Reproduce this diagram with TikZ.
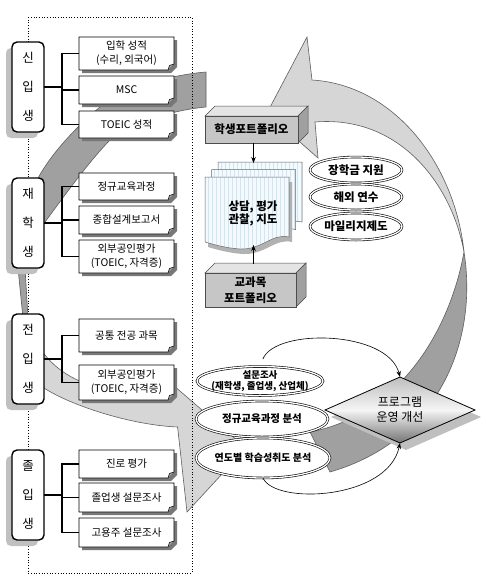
\documentclass[tikz,border=0pt]{standalone}
\usepackage{fontspec}
\setmainfont{Noto Sans CJK KR}
\usetikzlibrary{shapes.geometric,shadows,arrows.meta,calc}
\definecolor{ribL}{RGB}{214,214,214}
\definecolor{ribD}{RGB}{160,160,160}
\definecolor{ribE}{RGB}{95,95,95}
\definecolor{cshadow}{RGB}{192,192,192}
\definecolor{ishadow}{RGB}{120,120,120}
\definecolor{foldc}{RGB}{170,170,170}
\definecolor{paper}{RGB}{243,249,252}
\definecolor{gridc}{RGB}{208,230,240}
\definecolor{cubeF}{RGB}{198,198,198}
\definecolor{cubeT}{RGB}{228,228,228}
\definecolor{cubeR}{RGB}{160,160,160}

\newcommand\itembox[6]{%
  \pgfmathsetmacro\ibw{#4-#2}%
  \pgfmathsetmacro\ibh{#5-#3}%
  \pgfmathsetmacro\ibx{(#2+#4)/2}%
  \pgfmathsetmacro\iby{(#3+#5)/2}%
  \fill[ishadow] (#2+3,#3+3) -- (#4+3,#3+3) -- (#4+3,#5-3) -- (#4-3,#5+3) -- (#2+3,#5+3) -- cycle;
  \draw[line width=0.6, fill=white] (#2,#3) -- (#4,#3) -- (#4,#5-6) -- (#4-6,#5) -- (#2,#5) -- cycle;
  \draw[line width=0.5, fill=foldc] (#4,#5-6) -- (#4-4.5,#5-4.5) -- (#4-6,#5);
  \node[itemtxt, minimum width=\ibw pt, minimum height=\ibh pt] (#1) at (\ibx,\iby) {#6};
}
\newcommand\cuboid[6]{%
  \pgfmathsetmacro\ibw{#4-#2}%
  \pgfmathsetmacro\ibh{#5-#3}%
  \pgfmathsetmacro\ibx{(#2+#4)/2}%
  \pgfmathsetmacro\iby{(#3+#5)/2}%
  \path[fill=cubeT, draw=black!70, line width=0.5] (#2,#3) -- (#2+10,#3-10) -- (#4+10,#3-10) -- (#4,#3) -- cycle;
  \path[fill=cubeR, draw=black!70, line width=0.5] (#4,#3) -- (#4+10,#3-10) -- (#4+10,#5-10) -- (#4,#5) -- cycle;
  \node[cubefront, minimum width=\ibw pt, minimum height=\ibh pt] (#1) at (\ibx,\iby) {#6};
}
\newcommand\docpath[1]{%
  \path[#1] (205,177) -- (289,177) -- (289,237) .. controls (272,233) and (262,250) .. (240,249) .. controls (225,248) and (212,244) .. (205,242) -- cycle;
}

\begin{document}
\begin{tikzpicture}[x=1pt,y=-1pt,
  rib/.style={draw=ribE, line width=0.6},
  catbox/.style={draw=black, line width=1.4, rounded corners=5, fill=white,
    minimum width=32, minimum height=90, inner sep=0, outer sep=0, align=center,
    font=\fontsize{12.5}{29}\selectfont,
    drop shadow={shadow xshift=-6pt, shadow yshift=-6pt, fill=cshadow, opacity=1}},
  itemtxt/.style={inner sep=0, outer sep=0, align=center, font=\fontsize{10.5}{14}\selectfont},
  bracket/.style={line width=1.6, black},
  dell/.style={ellipse, draw=black, line width=0.6, double=white, double distance=1.3,
    fill=white, inner sep=0, outer sep=0},
  etxt/.style={font=\bfseries\fontsize{11.5}{13}\selectfont, align=center},
  cubefront/.style={draw=black!70, line width=0.5, fill=cubeF, inner sep=0, outer sep=0,
    align=center, font=\bfseries\fontsize{11.5}{16}\selectfont},
  arr/.style={-{Stealth[length=6pt,width=4.5pt]}, line width=0.6, black}
]
\useasboundingbox (0,0) rectangle (486,587);
\fill[white] (0,0) rectangle (486,587);

% ---- ribbon arrow 1 (left), back face
\path[fill=ribD, rib] (206,72) .. controls (160,76) and (120,92) .. (100,107)
  .. controls (75,128) and (50,155) .. (37,180) .. controls (28,200) and (19,235) .. (18,268)
  -- (23,318) -- (28,318) -- (25,268) .. controls (30,245) and (38,230) .. (45,222)
  .. controls (65,195) and (90,160) .. (112,138) .. controls (140,120) and (175,110) .. (206,107) -- cycle;
% front face with head
\path[fill=ribL, rib] (28,318) .. controls (40,375) and (95,400) .. (175,392)
  -- (173,385) -- (246,448) -- (187,512) -- (177.6,427)
  .. controls (130,425) and (70,405) .. (44,388) .. controls (32,372) and (25,345) .. (23,318) -- cycle;

% ---- ribbon arrow 2 (right), front face with head
\path[fill=ribL, rib] (307,37) -- (312,80) .. controls (395,85) and (455,165) .. (464,252)
  .. controls (452,185) and (400,115) .. (315,122) -- (318,158) -- (267,113) -- cycle;
% back face
\path[fill=ribD, rib] (464,252) .. controls (478,340) and (440,440) .. (330,472) -- (310,432)
  .. controls (400,415) and (450,330) .. (464,252) -- cycle;

% ---- dotted frame
\draw[dotted, line width=0.7] (28,17) rectangle (192,573);

% ---- categories
\node[catbox] (c1) at (28,87) {신\\입\\생};
\node[catbox] (c2) at (28,223) {재\\학\\생};
\node[catbox] (c3) at (28,359) {전\\입\\생};
\node[catbox] (c4) at (28,495) {졸\\입\\생};

% ---- items
\itembox{i11}{79}{37}{174}{70}{입학 성적\\(수리, 외국어)}
\itembox{i12}{79}{76}{174}{104}{MSC}
\itembox{i13}{79}{111}{174}{138}{TOEIC 성적}
\itembox{i21}{79}{173}{174}{200}{정규교육과정}
\itembox{i22}{79}{206}{174}{234}{종합설계보고서}
\itembox{i23}{79}{240}{174}{273}{외부공인평가\\(TOEIC, 자격증)}
\itembox{i31}{79}{319}{174}{352}{공통 전공 과목}
\itembox{i32}{79}{365}{174}{400}{외부공인평가\\(TOEIC, 자격증)}
\itembox{i41}{79}{450}{174}{478}{진로 평가}
\itembox{i42}{79}{483}{174}{512}{졸업생 설문조사}
\itembox{i43}{79}{518}{174}{547}{고용주 설문조사}

\foreach \c/\i in {c1/i11,c1/i12,c1/i13,c2/i21,c2/i22,c2/i23,c3/i31,c3/i32,c4/i41,c4/i42,c4/i43}
  \draw[bracket] (\c.east) -- ++(18,0) |- (\i.west);

% ---- portfolio boxes
\cuboid{sp}{205}{116}{298}{143}{학생포트폴리오}
\cuboid{cp}{205}{273}{296}{307}{교과목\\포트폴리오}

% ---- document stack
\foreach \dx/\dy in {13/-15,6.5/-7.5}{
  \begin{scope}[shift={(\dx,\dy)}]
    \docpath{fill=paper}
    \begin{scope}
      \docpath{clip}
      \draw[gridc, line width=0.25, step=4] (200,170) grid (300,260);
    \end{scope}
    \docpath{draw=black!60, line width=0.5}
  \end{scope}
}
\begin{scope}[shift={(3,5)}]
  \docpath{fill=black!30}
\end{scope}
\docpath{fill=paper}
\begin{scope}
  \docpath{clip}
  \draw[gridc, line width=0.25, step=4] (200,170) grid (300,260);
\end{scope}
\docpath{draw=black!60, line width=0.5}
\node[inner sep=0, outer sep=0, minimum width=97, minimum height=82] (doc) at (253.5,204) {};
\node[font=\bfseries\fontsize{11.5}{12.5}\selectfont, align=center] (dtext) at (253,213.5) {상담, 평가\\관찰, 지도};

\draw[arr] (sp.south -| doc.north) -- (doc.north);
\coordinate (cptop) at (253.5,264);
\draw[arr] (cptop) -- (cptop |- doc.south);

% ---- right ellipses
\node[dell, minimum width=92, minimum height=26, label={[etxt]center:장학금 지원}] (r1) at (356,170) {};
\node[dell, minimum width=92, minimum height=26, label={[etxt]center:해외 연수}] (r2) at (356,197) {};
\node[dell, minimum width=92, minimum height=27, label={[etxt]center:마일리지제도}] (r3) at (356,226.5) {};

% ---- bottom ellipses
\node[dell, minimum width=126, minimum height=29,
  label={[font=\bfseries\fontsize{9.5}{11}\selectfont, align=center]center:{설문조사\\(재학생, 졸업생, 산업체)}}] (e1) at (260,381) {};
\node[dell, minimum width=132, minimum height=36,
  label={[font=\bfseries\fontsize{10.5}{12}\selectfont]center:정규교육과정 분석}] (e2) at (262,419) {};
\node[dell, minimum width=134, minimum height=40,
  label={[font=\bfseries\fontsize{10}{12}\selectfont]center:연도별 학습성취도 분석}] (e3) at (263,458) {};

% ---- diamond
\node[diamond, minimum width=150, minimum height=66, inner sep=0, outer sep=0, draw=black, line width=0.8,
  top color={rgb,255:red,190;green,190;blue,190}, bottom color={rgb,255:red,115;green,115;blue,115},
  middle color={rgb,255:red,245;green,245;blue,245},
  drop shadow={shadow xshift=6pt, shadow yshift=-7pt, fill=black!25, opacity=1},
  label={[font=\fontsize{12}{15}\selectfont, align=center]center:{프로그램\\운영 개선}}] (dia) at (400,410) {};

\draw[arr, shorten <=8pt] (e1.north) .. controls (275,328) and (388,330) .. (dia.north);
\draw[arr] (e3.south) .. controls (275,505) and (388,500) .. (dia.south);
\end{tikzpicture}
\end{document}
